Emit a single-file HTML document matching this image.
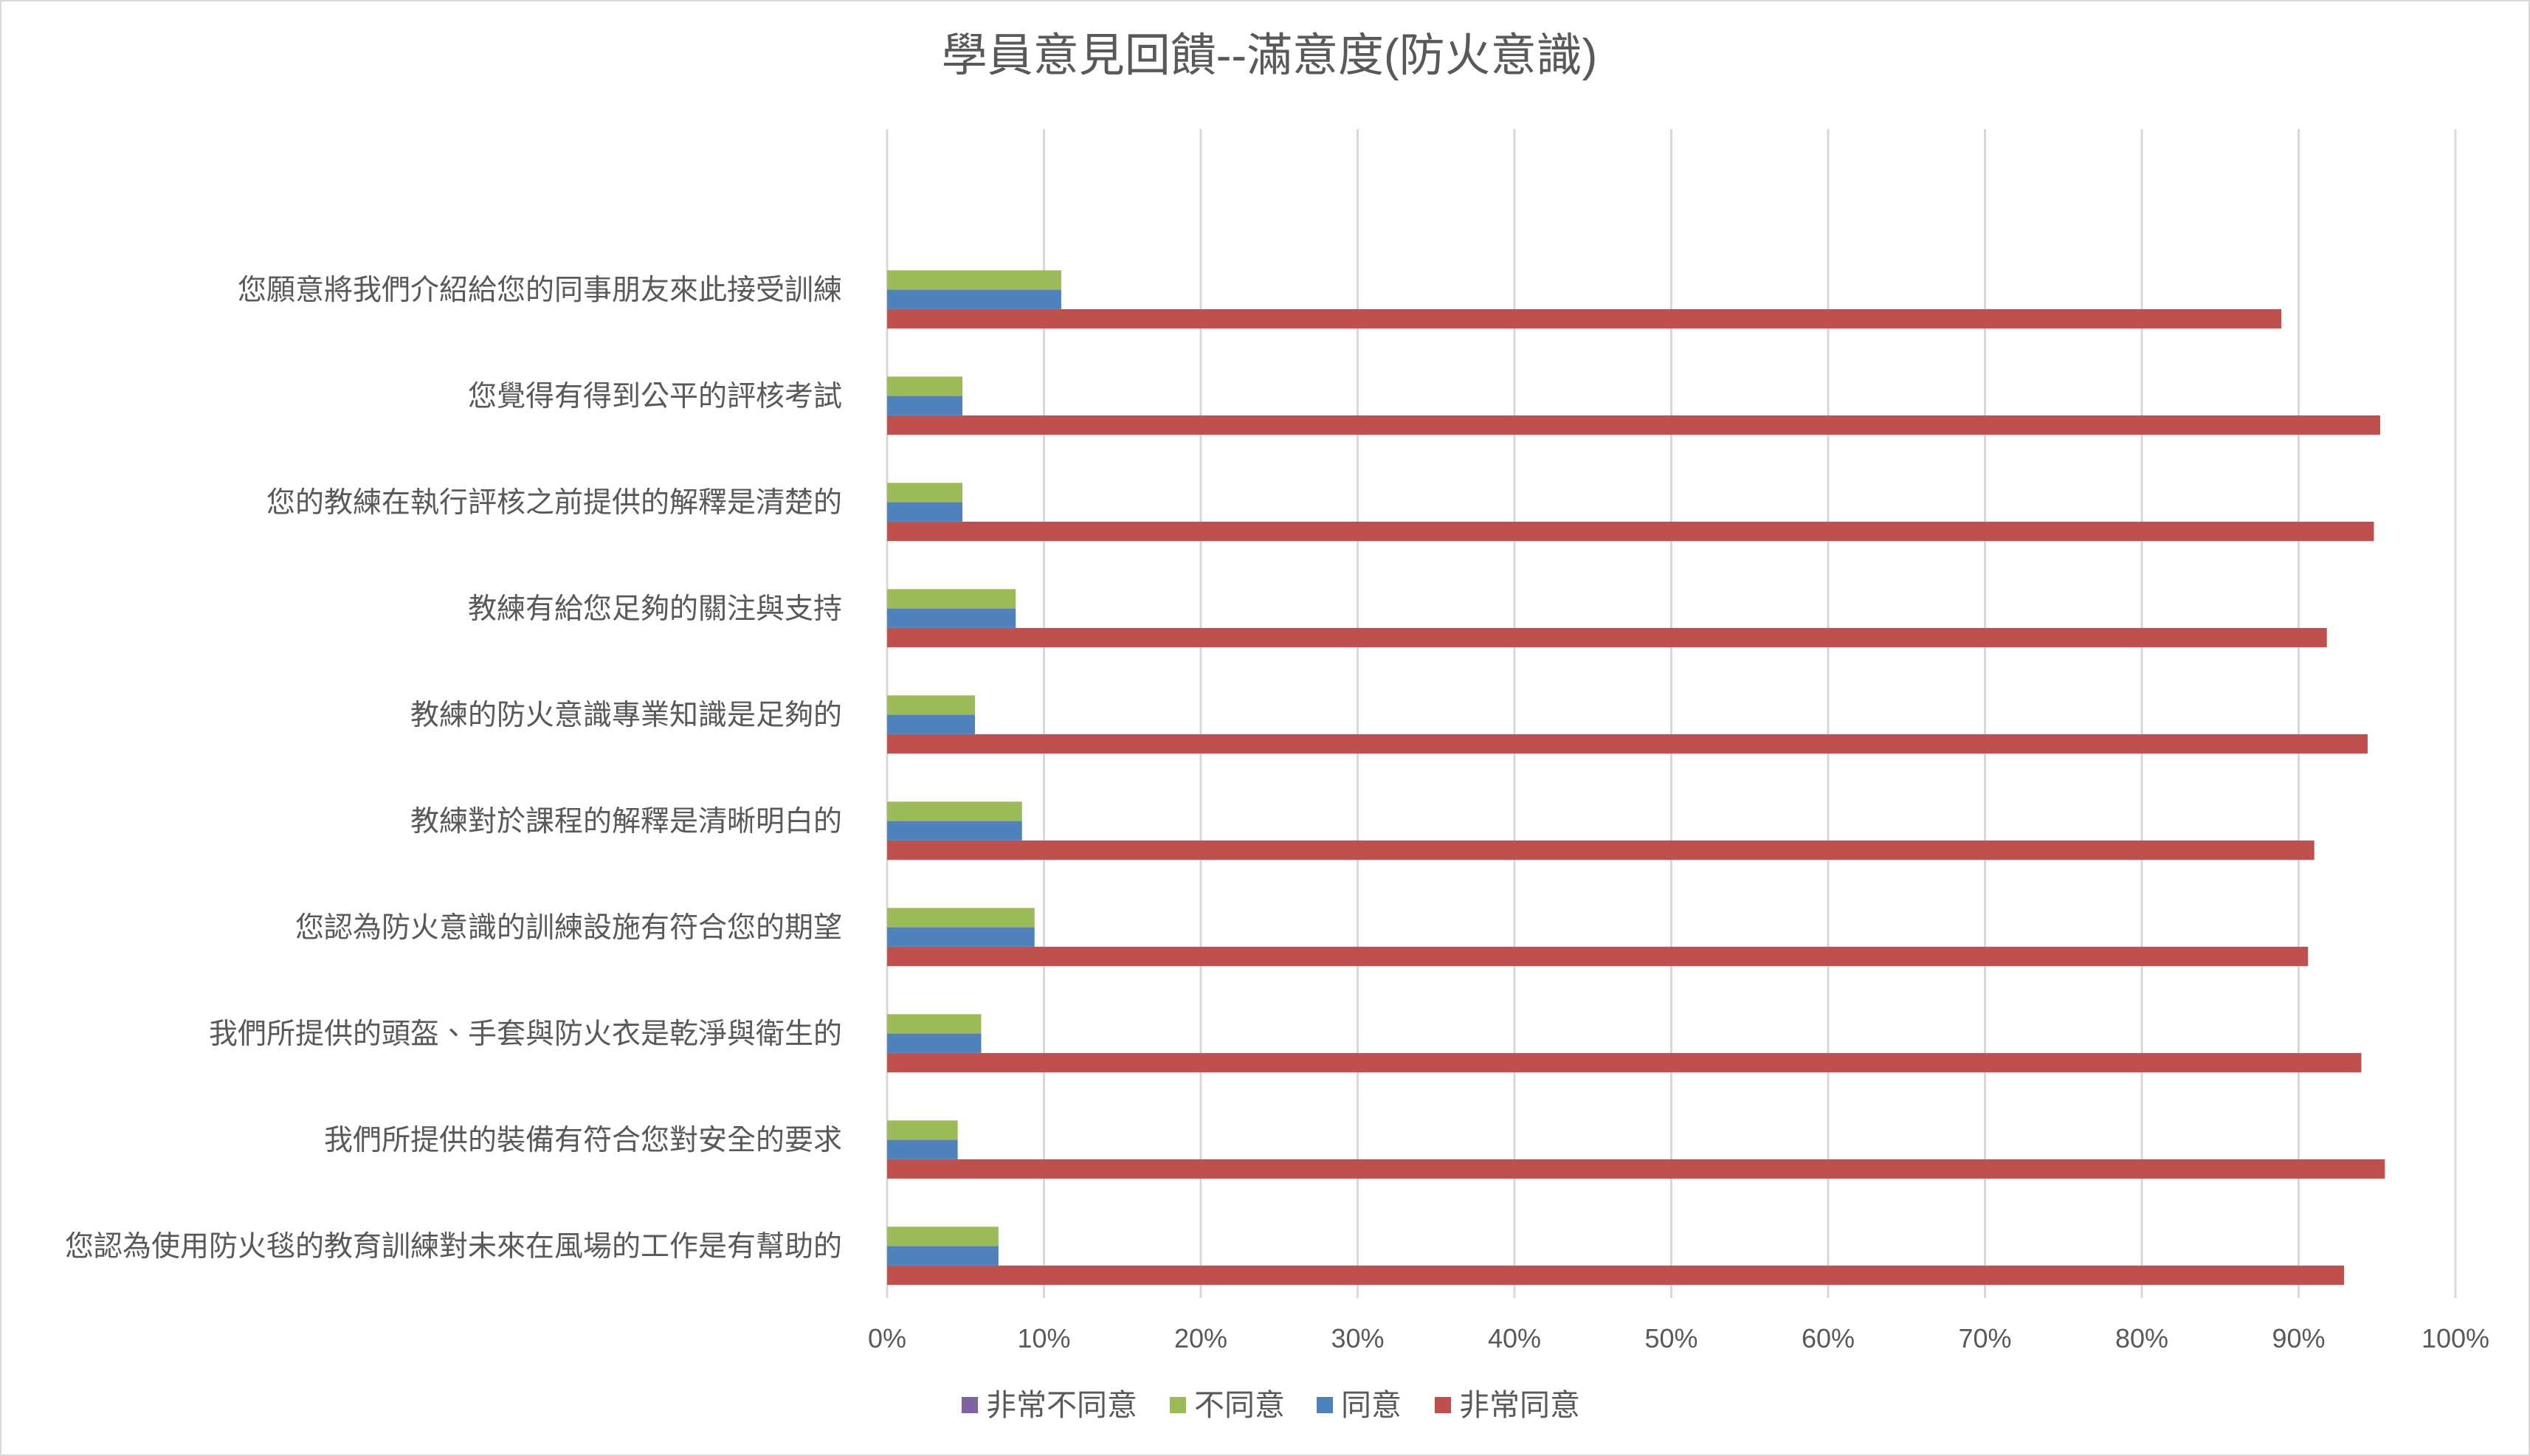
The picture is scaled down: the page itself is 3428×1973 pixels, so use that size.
<!DOCTYPE html>
<html><head><meta charset="utf-8"><style>
body{margin:0;background:#fff}
svg{display:block}
text{font-family:"Liberation Sans","Noto Sans CJK TC",sans-serif;fill:#595959}
</style></head><body>
<svg id="chart" width="3428" height="1973" viewBox="0 0 3428 1973" xmlns="http://www.w3.org/2000/svg">
<rect x="1" y="1" width="3426" height="1971" fill="#fff" stroke="#d9d9d9" stroke-width="2"/>
<text x="1720" y="96" font-size="62" text-anchor="middle">學員意見回饋--滿意度(防火意識)</text>
<g id="grid"></g><g id="bars"></g><g id="labels"></g><g id="legend"></g>
</svg>
<script>
const categories=["您願意將我們介紹給您的同事朋友來此接受訓練","您覺得有得到公平的評核考試","您的教練在執行評核之前提供的解釋是清楚的","教練有給您足夠的關注與支持","教練的防火意識專業知識是足夠的","教練對於課程的解釋是清晰明白的","您認為防火意識的訓練設施有符合您的期望","我們所提供的頭盔、手套與防火衣是乾淨與衛生的","我們所提供的裝備有符合您對安全的要求","您認為使用防火毯的教育訓練對未來在風場的工作是有幫助的"];
const seriesNames=["非常不同意","不同意","同意","非常同意"];
const stronglyDisagree=[0,0,0,0,0,0,0,0,0,0];
const disagree=[11.1,4.8,4.8,8.2,5.6,8.6,9.4,6.0,4.5,7.1];
const agree=[11.1,4.8,4.8,8.2,5.6,8.6,9.4,6.0,4.5,7.1];
const stronglyAgree=[88.9,95.2,94.8,91.8,94.4,91.0,90.6,94.0,95.5,92.9];
const tickLabels=["0%","10%","20%","30%","40%","50%","60%","70%","80%","90%","100%"];
const colors=["#8064A2","#9BBB59","#4F81BD","#C0504D"];
const NS="http://www.w3.org/2000/svg";
const X0=1202,X1=3327,YT=175,YB=1759;
const x=v=>X0+(X1-X0)*v/100;
const groupTop=i=>340+144*i;
const BH=26.3;
function mk(tag,attrs,parent){const e=document.createElementNS(NS,tag);for(const k in attrs)e.setAttribute(k,attrs[k]);parent.appendChild(e);return e;}
const grid=document.getElementById('grid'),bars=document.getElementById('bars'),labels=document.getElementById('labels'),legend=document.getElementById('legend');
tickLabels.forEach((t,i)=>{
  const xv=x(i*10);
  const l=mk('line',{x1:xv,x2:xv,y1:YT,y2:YB,stroke:'#d9d9d9','stroke-width':3},grid);
  
  
  const tx=mk('text',{x:xv,y:1826,'font-size':36,'text-anchor':'middle'},labels);
  tx.textContent=t;
  
  
});
const series=[stronglyDisagree,disagree,agree,stronglyAgree];
categories.forEach((c,i)=>{
  series.forEach((s,k)=>{
    const r=mk('rect',{x:X0,y:groupTop(i)+k*BH,width:x(s[i])-X0,height:BH,fill:colors[k]},bars);
    
    
  });
  const tx=mk('text',{x:1141,y:groupTop(i)+52+14,'font-size':39,'text-anchor':'end'},labels);
  tx.textContent=c;
  
  
});
const legX=[1303,1585,1784,1944];
seriesNames.forEach((n,k)=>{
  const r=mk('rect',{x:legX[k],y:1893,width:22,height:22,fill:colors[k]},legend);
  
  
  const tx=mk('text',{x:legX[k]+33,y:1918,'font-size':41},legend);
  tx.textContent=n;
  
  
});
</script>
</body></html>
